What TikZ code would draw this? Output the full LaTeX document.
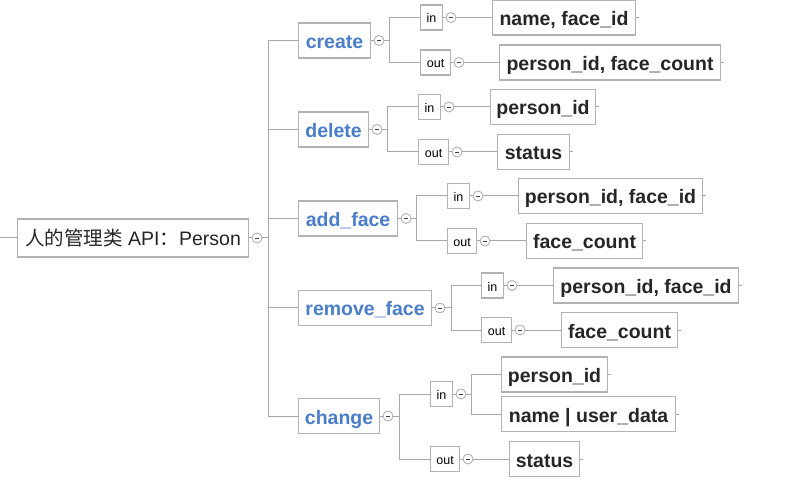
\documentclass[tikz,border=0pt]{standalone}
\usepackage{fontspec}
\setmainfont{Liberation Sans}
\newfontfamily\cjk{Noto Sans CJK SC}
\usetikzlibrary{positioning}
\definecolor{lgray}{RGB}{168,168,168}
\definecolor{bgray}{RGB}{178,178,178}
\definecolor{tblue}{RGB}{74,126,201}
\definecolor{tdark}{RGB}{38,38,38}
\begin{document}
\begin{tikzpicture}[x=1pt,y=-1pt,
 ln/.style={draw=lgray, line width=1pt},
 box/.style={draw=bgray, line width=1.1pt, inner sep=0pt, minimum height=35pt, anchor=west, align=center, fill=white},
 lvlone/.style={box, text=tblue, font=\fontsize{19.5}{22}\selectfont\bfseries, text height=16pt, text depth=0pt},
 leaf/.style={box, text=tdark, font=\fontsize{19.5}{22}\selectfont\bfseries, text height=16pt, text depth=0pt},
 rootbox/.style={box, minimum height=38pt, text=tdark, font=\fontsize{19.5}{22}\selectfont, text height=16pt, text depth=0pt},
 io/.style={box, minimum height=25pt, text=black, font=\fontsize{12.5}{14}\selectfont, text height=11pt, text depth=0pt},
 coll/.style={circle, draw=lgray, line width=0.8pt, fill=white, minimum size=10pt, inner sep=0pt, right=2.5pt of #1,
   path picture={\draw[line width=0.9pt, black!75] ([xshift=-2.3pt]path picture bounding box.center) -- ([xshift=2.3pt]path picture bounding box.center);}}
]
\useasboundingbox (0,0) rectangle (793,481);

% root
\node[rootbox, minimum width=231pt] (root) at (17,238) {{\cjk 人的管理类} API{\cjk ：}Person};
\node[coll=root] (cR) {};
\coordinate (lstub) at (0,238);
\coordinate (tR) at (268,238);

% level 1
\node[lvlone, minimum width=72pt]  (create) at (298,40.5) {create};
\node[lvlone, minimum width=70pt]  (delete) at (298,129.5) {delete};
\node[lvlone, minimum width=99pt]  (addface) at (298,218.5) {add\_face};
\node[lvlone, minimum width=133pt] (removeface) at (298,308) {remove\_face};
\node[lvlone, minimum width=81pt]  (change) at (298,416) {change};
\node[coll=create] (cC) {};
\node[coll=delete] (cD) {};
\node[coll=addface] (cA) {};
\node[coll=removeface] (cM) {};
\node[coll=change] (cH) {};

% branch points
\coordinate (bC) at (389,40.5);
\coordinate (bD) at (387,129.5);
\coordinate (bA) at (416,218.5);
\coordinate (bM) at (451,308);
\coordinate (bH) at (399,416);

% in / out
\node[io, minimum width=22pt] (Ci) at (420,17.5) {in};
\node[io, minimum width=30pt] (Co) at (420,62.5) {out};
\node[io, minimum width=22pt] (Di) at (418,107) {in};
\node[io, minimum width=30pt] (Do) at (418,152) {out};
\node[io, minimum width=22pt] (Ai) at (447,196) {in};
\node[io, minimum width=29pt] (Ao) at (447,241) {out};
\node[io, minimum width=22pt] (Mi) at (481,285.5) {in};
\node[io, minimum width=30pt] (Mo) at (481,330) {out};
\node[io, minimum width=22pt] (Hi) at (430,394) {in};
\node[io, minimum width=29pt] (Ho) at (430,459) {out};
\foreach \n in {Ci,Co,Di,Do,Ai,Ao,Mi,Mo,Hi,Ho} {\node[coll=\n] (c\n) {};}

% leaves
\node[leaf, minimum width=143pt] (lCi) at (492,17.5) {name, face\_id};
\node[leaf, minimum width=221pt] (lCo) at (499,62.5) {person\_id, face\_count};
\node[leaf, minimum width=105pt] (lDi) at (490,107) {person\_id};
\node[leaf, minimum width=72pt]  (lDo) at (497,152) {status};
\node[leaf, minimum width=184pt] (lAi) at (518,196) {person\_id, face\_id};
\node[leaf, minimum width=116pt] (lAo) at (526,241) {face\_count};
\node[leaf, minimum width=185pt] (lMi) at (553,285.5) {person\_id, face\_id};
\node[leaf, minimum width=116pt] (lMo) at (561,330) {face\_count};
\node[leaf, minimum width=106pt] (lHi1) at (501,374.5) {person\_id};
\node[leaf, minimum width=174pt] (lHi2) at (501,414) {name | user\_data};
\node[leaf, minimum width=70pt]  (lHo) at (509,459) {status};
\coordinate (bHi) at (471,394);

% connectors
\draw[ln] (lstub) -- (root.west);
\draw[ln] (root.east) -- (cR.west);
\draw[ln] (cR.east) -- (tR);
\foreach \c in {create,delete,addface,removeface,change} {\draw[ln] (tR) |- (\c.west);}
\draw[ln] (create.east) -- (cC.west);
\draw[ln] (delete.east) -- (cD.west);
\draw[ln] (addface.east) -- (cA.west);
\draw[ln] (removeface.east) -- (cM.west);
\draw[ln] (change.east) -- (cH.west);
\draw[ln] (cC.east) -- (bC); \draw[ln] (bC) |- (Ci.west); \draw[ln] (bC) |- (Co.west);
\draw[ln] (cD.east) -- (bD); \draw[ln] (bD) |- (Di.west); \draw[ln] (bD) |- (Do.west);
\draw[ln] (cA.east) -- (bA); \draw[ln] (bA) |- (Ai.west); \draw[ln] (bA) |- (Ao.west);
\draw[ln] (cM.east) -- (bM); \draw[ln] (bM) |- (Mi.west); \draw[ln] (bM) |- (Mo.west);
\draw[ln] (cH.east) -- (bH); \draw[ln] (bH) |- (Hi.west); \draw[ln] (bH) |- (Ho.west);
\foreach \n in {Ci,Co,Di,Do,Ai,Ao,Mi,Mo,Hi,Ho} {\draw[ln] (\n.east) -- (c\n.west);}
\foreach \n in {Ci,Co,Di,Do,Ai,Ao,Mi,Mo,Ho} {\draw[ln] (c\n.east) -- (l\n.west);}
\draw[ln] (cHi.east) -- (bHi); \draw[ln] (bHi) |- (lHi1.west); \draw[ln] (bHi) |- (lHi2.west);
\foreach \n in {lCi,lCo,lDi,lDo,lAi,lAo,lMi,lMo,lHi1,lHi2,lHo} {\draw[ln] (\n.east) -- ++(3,0);}
\end{tikzpicture}
\end{document}
